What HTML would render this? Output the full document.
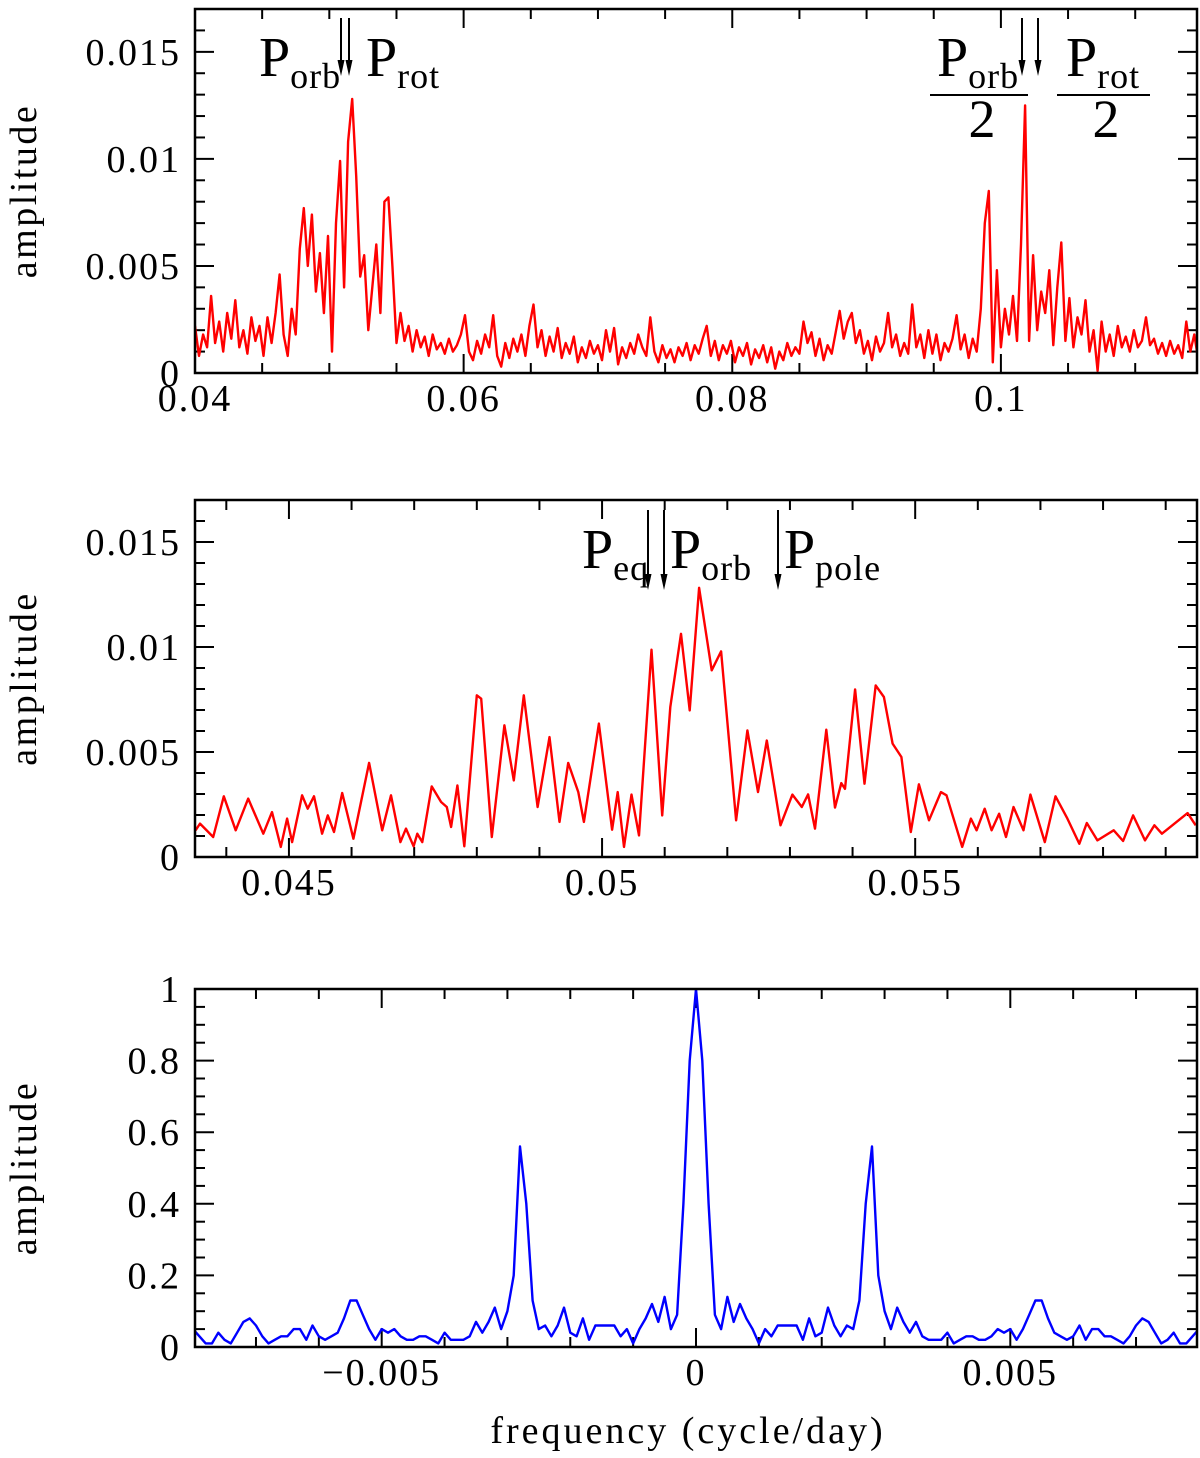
<!DOCTYPE html>
<html><head><meta charset="utf-8"><style>
body{margin:0;background:#fff;}
svg{display:block;font-family:"Liberation Serif",serif;}
</style></head><body>
<svg id="fig" width="1200" height="1458" viewBox="0 0 1200 1458"></svg>
<script>
// ---------- Panel 1 data (amplitude in units of 1e-4, uniform frequency grid from 0.04 step 0.0003)
const p1Start = 0.04;
const p1Step = 0.0003;
const p1AmpE4 = [22,8,18,12,36,14,24,10,28,16,34,12,20,9,26,15,22,8,26,14,28,46,18,8,30,18,58,77,50,74,38,56,28,64,10,70,99,40,108,128,92,45,55,20,40,60,28,80,82,50,14,28,15,22,10,20,12,17,8,18,11,14,9,16,10,13,18,27,10,6,15,9,18,12,27,8,3,14,7,16,10,18,8,22,32,12,20,8,17,10,21,7,14,9,17,5,12,7,15,9,13,6,20,10,21,4,12,7,14,9,18,12,8,26,10,5,13,7,11,5,12,8,14,6,13,9,16,22,8,15,6,13,9,15,5,12,8,14,4,11,7,13,5,12,2,10,6,14,8,12,9,24,14,19,8,16,6,13,9,19,29,16,24,28,14,20,9,15,6,17,10,14,28,12,18,8,14,9,32,12,18,7,20,9,18,6,14,10,16,27,11,18,7,16,10,30,70,85,5,48,12,30,18,36,15,60,125,15,55,20,38,28,48,13,40,61,15,35,12,26,18,34,10,20,1,24,10,18,8,22,12,17,10,20,12,15,26,13,16,9,14,8,15,9,13,7,24,10,18,6];
const p1XTicks = [0.04,0.06,0.08,0.1];
const p1XTickLabels = ["0.04","0.06","0.08","0.1"];
const p1YTicks = [0,0.005,0.01,0.015];
const p1YTickLabels = ["0","0.005","0.01","0.015"];

// ---------- Panel 2 data
const p2Freq = [0.04351,0.04358,0.04379,0.04396,0.04415,0.04435,0.04459,0.04473,0.04487,0.04497,0.04505,0.04521,0.04530,0.04540,0.04553,0.04562,0.04572,0.04585,0.04603,0.04628,0.04649,0.04663,0.04678,0.04687,0.04699,0.04705,0.04713,0.04728,0.04743,0.04752,0.04759,0.04769,0.04780,0.04800,0.04807,0.04824,0.04844,0.04859,0.04875,0.04897,0.04916,0.04932,0.04946,0.04962,0.04971,0.04995,0.05016,0.05025,0.05035,0.05047,0.05059,0.05079,0.05096,0.05109,0.05126,0.05140,0.05155,0.05175,0.05190,0.05214,0.05232,0.05249,0.05263,0.05285,0.05304,0.05319,0.05329,0.05340,0.05358,0.05372,0.05382,0.05388,0.05404,0.05419,0.05437,0.05450,0.05464,0.05478,0.05493,0.05506,0.05522,0.05541,0.05550,0.05575,0.05589,0.05598,0.05611,0.05622,0.05634,0.05645,0.05657,0.05673,0.05684,0.05707,0.05724,0.05743,0.05762,0.05774,0.05791,0.05817,0.05832,0.05848,0.05867,0.05882,0.05894,0.05935,0.05948];
const p2Amp = [0.00127,0.00159,0.00095,0.00289,0.00127,0.00278,0.00111,0.00214,0.00048,0.00183,0.00071,0.00294,0.00230,0.00289,0.00111,0.00198,0.00119,0.00305,0.00087,0.00448,0.00127,0.00294,0.00071,0.00135,0.00051,0.00111,0.00071,0.00336,0.00262,0.00238,0.00143,0.00341,0.00051,0.00770,0.00754,0.00095,0.00627,0.00365,0.00770,0.00238,0.00571,0.00167,0.00448,0.00309,0.00167,0.00635,0.00130,0.00309,0.00048,0.00297,0.00103,0.00987,0.00198,0.00714,0.01063,0.00698,0.01282,0.00889,0.00979,0.00175,0.00603,0.00309,0.00555,0.00151,0.00297,0.00238,0.00298,0.00135,0.00606,0.00235,0.00352,0.00325,0.00798,0.00349,0.00817,0.00762,0.00540,0.00476,0.00119,0.00346,0.00175,0.00309,0.00294,0.00048,0.00183,0.00127,0.00230,0.00127,0.00206,0.00095,0.00238,0.00127,0.00297,0.00071,0.00289,0.00183,0.00063,0.00162,0.00079,0.00127,0.00076,0.00198,0.00079,0.00151,0.00111,0.00209,0.00151];
const p2XTicks = [0.045,0.05,0.055];
const p2XTickLabels = ["0.045","0.05","0.055"];

// ---------- Panel 3 data (window function, uniform grid from -0.008 step 0.0001)
const p3Start = -0.008;
const p3Step = 0.0001;
const p3Amp = [0.05,0.03,0.01,0.01,0.04,0.02,0.01,0.04,0.07,0.08,0.06,0.03,0.01,0.02,0.03,0.03,0.05,0.05,0.02,0.06,0.03,0.02,0.03,0.04,0.08,0.13,0.13,0.09,0.05,0.02,0.05,0.04,0.05,0.03,0.02,0.02,0.03,0.03,0.02,0.01,0.04,0.02,0.02,0.02,0.03,0.07,0.04,0.07,0.11,0.05,0.10,0.20,0.56,0.40,0.13,0.05,0.06,0.03,0.06,0.11,0.04,0.03,0.08,0.02,0.06,0.06,0.06,0.06,0.03,0.05,0.01,0.05,0.08,0.12,0.07,0.14,0.05,0.09,0.40,0.80,1.0,0.80,0.40,0.09,0.05,0.14,0.07,0.12,0.08,0.05,0.01,0.05,0.03,0.06,0.06,0.06,0.06,0.02,0.08,0.03,0.04,0.11,0.06,0.03,0.06,0.05,0.13,0.40,0.56,0.20,0.10,0.05,0.11,0.07,0.04,0.07,0.03,0.02,0.02,0.02,0.04,0.01,0.02,0.03,0.03,0.02,0.02,0.03,0.05,0.04,0.05,0.02,0.05,0.09,0.13,0.13,0.08,0.04,0.03,0.02,0.03,0.06,0.02,0.05,0.05,0.03,0.03,0.02,0.01,0.03,0.06,0.08,0.07,0.04,0.01,0.02,0.04,0.01,0.01,0.03,0.05];
const p3XTicks = [-0.005,0,0.005];
const p3XTickLabels = ["\u22120.005","0","0.005"];
const p3YTicks = [0,0.2,0.4,0.6,0.8,1];
const p3YTickLabels = ["0","0.2","0.4","0.6","0.8","1"];

const NS = "http://www.w3.org/2000/svg";
const svg = document.getElementById('fig');
function mk(tag, attrs, parent){
  const e = document.createElementNS(NS, tag);
  for (const k in attrs) e.setAttribute(k, attrs[k]);
  (parent||svg).appendChild(e);
  return e;
}
function scale(d0,d1,r0,r1){ return v => r0 + (v-d0)/(d1-d0)*(r1-r0); }

function panel(cfg){
  const g = mk('g', {});
  
  
  const {L,R,T,B} = cfg;
  const xs = scale(cfg.xmin,cfg.xmax,L,R);
  const ys = scale(cfg.ymin,cfg.ymax,B,T);
  const tg = mk('g', {stroke:'#000','stroke-width':2}, g);
  
  
  const eps = 1e-9;
  let n0 = Math.ceil((cfg.xmin-eps)/cfg.xMinor), n1 = Math.floor((cfg.xmax+eps)/cfg.xMinor);
  for (let n=n0;n<=n1;n++){
    const v = n*cfg.xMinor, x = xs(v);
    const major = Math.abs(v/cfg.xMajor - Math.round(v/cfg.xMajor))<1e-6;
    const len = major?19:10;
    mk('line',{x1:x,x2:x,y1:B,y2:B-len},tg);
    mk('line',{x1:x,x2:x,y1:T,y2:T+len},tg);
  }
  n0 = Math.ceil((cfg.ymin-eps)/cfg.yMinor); n1 = Math.floor((cfg.ymax+eps)/cfg.yMinor);
  for (let n=n0;n<=n1;n++){
    const v = n*cfg.yMinor, y = ys(v);
    const major = Math.abs(v/cfg.yMajor - Math.round(v/cfg.yMajor))<1e-6;
    const len = major?19:10;
    mk('line',{x1:L,x2:L+len,y1:y,y2:y},tg);
    mk('line',{x1:R,x2:R-len,y1:y,y2:y},tg);
  }
  let d = '';
  cfg.xs.forEach((xv,i)=>{ d += (i?'L':'M') + xs(xv).toFixed(1)+','+ys(cfg.ys[i]).toFixed(1); });
  const cp = mk('clipPath',{id:cfg.name+'-clip'},g);
  mk('rect',{x:L,y:T,width:R-L,height:B-T},cp);
  const path = mk('path',{d:d,fill:'none',stroke:cfg.color,'stroke-width':2.4,'stroke-linejoin':'round','clip-path':'url(#'+cfg.name+'-clip)'},g);
  
  
  const fr = mk('rect',{x:L,y:T,width:R-L,height:B-T,fill:'none',stroke:'#000','stroke-width':2.5},g);
  
  
  cfg.xTicks.forEach((v,i)=>{
    const t = mk('text',{x:xs(v),y:B+38,'text-anchor':'middle','font-size':38,'letter-spacing':2},g);
    t.textContent = cfg.xTickLabels[i];
    
    
  });
  cfg.yTicks.forEach((v,i)=>{
    const t = mk('text',{x:L-14,y:ys(v)+13,'text-anchor':'end','font-size':38,'letter-spacing':2},g);
    t.textContent = cfg.yTickLabels[i];
    
    
  });
  const yt = mk('text',{x:0,y:0,'text-anchor':'middle','font-size':38,'letter-spacing':2.5,transform:'translate(36,'+((T+B)/2)+') rotate(-90)'},g);
  yt.textContent = 'amplitude';
  
  
  return {xs,ys,g};
}

const p1x = p1AmpE4.map((_,i)=>p1Start+p1Step*i);
const p1y = p1AmpE4.map(v=>v*1e-4);
panel({name:'panel-top',L:195,R:1197,T:9,B:373,xmin:0.04,xmax:0.1146,ymin:0,ymax:0.0170,
  xMinor:0.005,xMajor:0.02,yMinor:0.001,yMajor:0.005,xs:p1x,ys:p1y,color:'#ff0000',
  xTicks:p1XTicks,xTickLabels:p1XTickLabels,yTicks:p1YTicks,yTickLabels:p1YTickLabels});
panel({name:'panel-middle',L:195,R:1197,T:500,B:857,xmin:0.0435,xmax:0.0595,ymin:0,ymax:0.0170,
  xMinor:0.001,xMajor:0.005,yMinor:0.001,yMajor:0.005,xs:p2Freq,ys:p2Amp,color:'#ff0000',
  xTicks:p2XTicks,xTickLabels:p2XTickLabels,yTicks:p1YTicks,yTickLabels:p1YTickLabels});
const p3x = p3Amp.map((_,i)=>p3Start+p3Step*i);
panel({name:'panel-bottom',L:195,R:1197,T:989,B:1347,xmin:-0.00797,xmax:0.00797,ymin:0,ymax:1.0,
  xMinor:0.001,xMajor:0.005,yMinor:0.05,yMajor:0.2,xs:p3x,ys:p3Amp,color:'#0000ff',
  xTicks:p3XTicks,xTickLabels:p3XTickLabels,yTicks:p3YTicks,yTickLabels:p3YTickLabels});

function arrow(x,y1,y2,name){
  const g = mk('g',{});
  
  
  mk('line',{x1:x,x2:x,y1:y1,y2:y2-10,stroke:'#000','stroke-width':2},g);
  mk('polygon',{points:(x-3.5)+','+(y2-16)+' '+(x+3.5)+','+(y2-16)+' '+x+','+y2,fill:'#000'},g);
}
function label(x,y,main,sub,name){
  const t = mk('text',{x:x,y:y,'font-size':56});
  
  
  const a = mk('tspan',{},t); a.textContent = main;
  const b = mk('tspan',{'font-size':36,dy:12,'letter-spacing':1},t); b.textContent = sub;
}
label(259,76,'P','orb','label-p-orb');
label(366,76,'P','rot','label-p-rot');
arrow(341,18,76,'arrow-p-orb');
arrow(349,18,76,'arrow-p-rot');
label(937,76,'P','orb','label-p-orb-half');
label(1066,76,'P','rot','label-p-rot-half');
mk('line',{x1:930,x2:1028,y1:95,y2:95,stroke:'#000','stroke-width':2});
mk('line',{x1:1057,x2:1150,y1:95,y2:95,stroke:'#000','stroke-width':2});
let t2 = mk('text',{x:982,y:137,'font-size':54,'text-anchor':'middle'}); t2.textContent='2';


t2 = mk('text',{x:1106,y:137,'font-size':54,'text-anchor':'middle'}); t2.textContent='2';


arrow(1022,18,76,'arrow-p-orb-half');
arrow(1038,18,76,'arrow-p-rot-half');

label(582,568,'P','eq','label-p-eq');
label(670,568,'P','orb','label-p-orb-mid');
label(784,568,'P','pole','label-p-pole');
arrow(648,510,590,'arrow-p-eq');
arrow(664,510,590,'arrow-p-orb-mid');
arrow(778,510,590,'arrow-p-pole');

const xt = mk('text',{x:688,y:1443,'text-anchor':'middle','font-size':38,'letter-spacing':3});
xt.textContent = 'frequency (cycle/day)';


</script>
</body></html>
